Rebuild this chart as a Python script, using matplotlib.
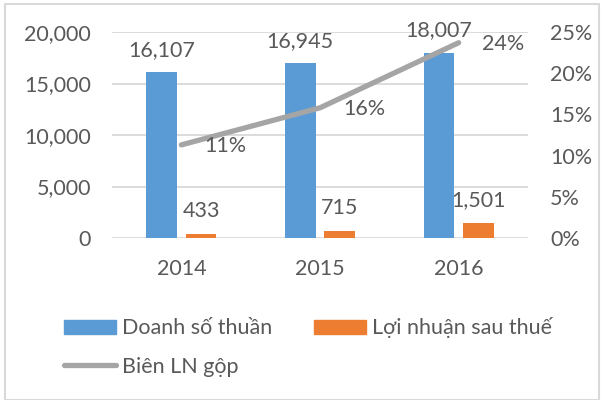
import matplotlib
matplotlib.use("Agg")
import matplotlib.pyplot as plt
from matplotlib.patches import Rectangle, Patch
from matplotlib.lines import Line2D
import numpy as np

years = ["2014", "2015", "2016"]
revenue = [16107, 16945, 18007]
profit = [433, 715, 1501]
margin = [11.3, 15.8, 23.7]
margin_labels = ["11%", "16%", "24%"]
left_ticks = [0, 5000, 10000, 15000, 20000]
right_ticks = [0, 5, 10, 15, 20, 25]

plt.rcParams['font.family'] = ['Lato', 'DejaVu Sans']
txt = '#595959'
fs = 15.5

fig = plt.figure(figsize=(6.04, 4.00), dpi=100)
ax = fig.add_axes([112/604, 1-238/400, 416/604, 206/400])
x = np.arange(len(years))
bw = 0.22
off = 0.142
ax.bar(x - off, revenue, bw, color='#5B9BD5', zorder=2)
ax.bar(x + off, profit, bw, color='#ED7D31', zorder=2)
ax.set_xlim(-0.5, 2.5)
ax.set_ylim(0, 20000)
ax.set_yticks(left_ticks)
ax.set_yticklabels([f"{v:,}" for v in left_ticks])
ax.set_xticks(x)
ax.set_xticklabels(years)
ax.grid(axis='y', color='#D9D9D9', linewidth=1.3, zorder=0)
ax.set_axisbelow(True)
for s in ax.spines.values():
    s.set_visible(False)
ax.tick_params(length=0, labelsize=fs, colors=txt)
ax.tick_params(axis='y', pad=15)
ax.tick_params(axis='x', pad=15)
for i, v in enumerate(revenue):
    ax.annotate(f"{v:,}", (x[i] - off, v), xytext=(0, 9), textcoords='offset points',
                ha='center', va='bottom', fontsize=fs, color=txt)
for i, v in enumerate(profit):
    ax.annotate(f"{v:,}", (x[i] + off, v), xytext=(0, 9), textcoords='offset points',
                ha='center', va='bottom', fontsize=fs, color=txt)

ax2 = ax.twinx()
ax2.set_ylim(0, 25)
ax2.set_yticks(right_ticks)
ax2.set_yticklabels([f"{v}%" for v in right_ticks])
for s in ax2.spines.values():
    s.set_visible(False)
ax2.tick_params(length=0, labelsize=fs, colors=txt, pad=16)
ax2.plot(x, margin, color='#A5A5A5', linewidth=3.8, solid_capstyle='round', zorder=3)
for i, v in enumerate(margin):
    ax2.annotate(margin_labels[i], (x[i], v), xytext=(32, -1), textcoords='offset points',
                 ha='center', va='center', fontsize=fs, color=txt)

handles = [Patch(color='#5B9BD5'), Line2D([], [], color='#A5A5A5', linewidth=3.8, solid_capstyle='round'),
           Patch(color='#ED7D31')]
labels = ["Doanh số thuần", "Biên LN gộp", "Lợi nhuận sau thuế"]
fig.legend(handles, labels, ncol=2, loc='upper left', bbox_to_anchor=(45/604, 1-298/400),
           frameon=False, fontsize=fs, labelcolor=txt, handlelength=2.42, handleheight=0.65,
           handletextpad=0.28, columnspacing=1.9, labelspacing=0.85)

fig.patches.append(Rectangle((5/604, 0), 1-10/604, 1-4/400, transform=fig.transFigure,
                             fill=False, edgecolor='#D9D9D9', linewidth=1.5))
fig.savefig("out.png", dpi=100)
